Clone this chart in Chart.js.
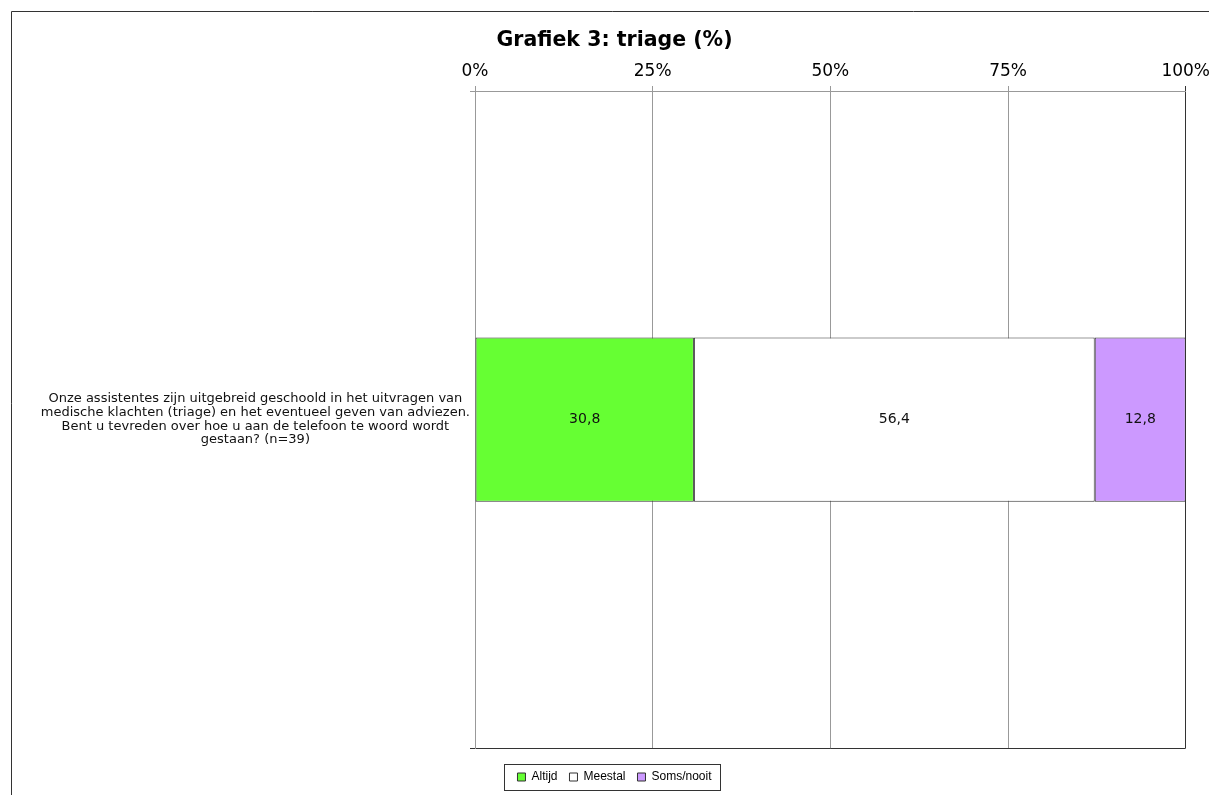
<!DOCTYPE html>
<html>
<head>
<meta charset="utf-8">
<title>Grafiek 3: triage (%)</title>
<script src="https://cdn.jsdelivr.net/npm/chart.js@4"></script>
<style>
  html, body { margin: 0; padding: 0; background: #fff; overflow: hidden; }
  #wrap { position: relative; width: 1209px; height: 795px; overflow: hidden; }
</style>
</head>
<body>
<div id="wrap"><canvas id="triageChart" width="1214" height="795"></canvas></div>
<script>
// Chart data
const questions = [[
  "Onze assistentes zijn uitgebreid geschoold in het uitvragen van",
  "medische klachten (triage) en het eventueel geven van adviezen.",
  "Bent u tevreden over hoe u aan de telefoon te woord wordt",
  "gestaan? (n=39)"
]]
const seriesNames = ["Altijd", "Meestal", "Soms/nooit"]
const altijd = [30.8]
const meestal = [56.4]
const somsNooit = [12.8]
const percentTicks = [0, 25, 50, 75, 100]
const seriesColors = ["#66FF33", "#FFFFFF", "#CC99FF"]

// outer frame of the chart sheet (top and left edge)
const framePlugin = {
  id: "frame",
  beforeDraw(chart) {
    const ctx = chart.ctx
    ctx.save()
    ctx.strokeStyle = "#333"
    ctx.lineWidth = 1
    ctx.beginPath()
    ctx.moveTo(11.5, chart.height)
    ctx.lineTo(11.5, 11.5)
    ctx.lineTo(chart.width, 11.5)
    ctx.stroke()
    ctx.restore()
  },
}

// value labels in the middle of each bar segment
const valueLabels = {
  id: "valueLabels",
  afterDatasetsDraw(chart) {
    const ctx = chart.ctx
    ctx.save()
    ctx.font = "14px 'DejaVu Sans'"
    ctx.fillStyle = "#111"
    ctx.textAlign = "center"
    ctx.textBaseline = "middle"
    chart.data.datasets.forEach((ds, i) => {
      chart.getDatasetMeta(i).data.forEach((bar, j) => {
        const p = bar.getCenterPoint()
        ctx.fillText(ds.data[j].toFixed(1).replace(".", ","), p.x, p.y)
      })
    })
    ctx.restore()
  },
}

// box around the legend
const legendBox = {
  id: "legendBox",
  afterDraw(chart) {
    const boxes = chart.legend.legendHitBoxes
    if (!boxes || !boxes.length) return
    const left = Math.min(...boxes.map((b) => b.left))
    const right = Math.max(...boxes.map((b) => b.left + b.width))
    const mid = boxes[0].top + boxes[0].height / 2
    const ctx = chart.ctx
    ctx.save()
    ctx.strokeStyle = "#333"
    ctx.lineWidth = 1
    ctx.strokeRect(Math.round(left - 13) + 0.5, Math.round(mid - 13) + 0.5, Math.round(right - left + 22), 26)
    ctx.restore()
  },
}

new Chart(document.getElementById("triageChart"), {
  type: "bar",
  data: {
    labels: questions,
    datasets: [
      { label: seriesNames[0], data: altijd, backgroundColor: seriesColors[0] },
      { label: seriesNames[1], data: meestal, backgroundColor: seriesColors[1] },
      { label: seriesNames[2], data: somsNooit, backgroundColor: seriesColors[2] },
    ].map((d) => ({
      ...d,
      borderColor: "#333",
      borderWidth: 1,
      borderSkipped: false,
      categoryPercentage: 1,
      barPercentage: 0.25,
    })),
  },
  options: {
    indexAxis: "y",
    responsive: false,
    animation: false,
    // negative right padding widens the title/legend band past the plot so they centre like the original
    layout: { padding: { left: 4, right: -11, top: 28, bottom: 2 } },
    scales: {
      x: {
        position: "top",
        stacked: true,
        min: 0,
        max: 100,
        afterBuildTicks: (scale) => {
          scale.ticks = percentTicks.map((v) => ({ value: v }))
        },
        ticks: {
          color: "#000",
          font: { family: "'DejaVu Sans'", size: 17 },
          padding: 4,
          maxRotation: 0,
          callback: (v) => v + "%",
        },
        grid: {
          color: (c) => (c.tick && c.tick.value === 100 ? "#333" : "#999"),
          tickLength: 5,
        },
        border: { color: "#999" },
      },
      y: {
        stacked: true,
        afterFit: (scale) => {
          scale.width = 471
        },
        ticks: {
          color: "#111",
          font: { family: "'DejaVu Sans'", size: 13, lineHeight: 1.05 },
          crossAlign: "center",
          padding: 0,
        },
        grid: {
          // the extra (bottom) line of an offset grid gets the scale context
          color: (c) => (c.type === "tick" ? "#999" : "#333"),
          tickLength: 5,
        },
        border: { color: "#999" },
      },
    },
    plugins: {
      title: {
        display: true,
        text: "Grafiek 3: triage (%)",
        color: "#000",
        font: { family: "'DejaVu Sans'", size: 20.5, weight: "bold" },
        padding: { top: 0, bottom: 5 },
      },
      legend: {
        position: "bottom",
        title: { display: true, text: "", font: { size: 11, lineHeight: 1 }, padding: 0 },
        labels: {
          color: "#000",
          font: { family: "'Liberation Sans'", size: 12 },
          boxWidth: 8,
          boxHeight: 8,
          padding: 12,
        },
      },
      tooltip: { enabled: false },
    },
  },
  plugins: [framePlugin, valueLabels, legendBox],
})
</script>
</body>
</html>
